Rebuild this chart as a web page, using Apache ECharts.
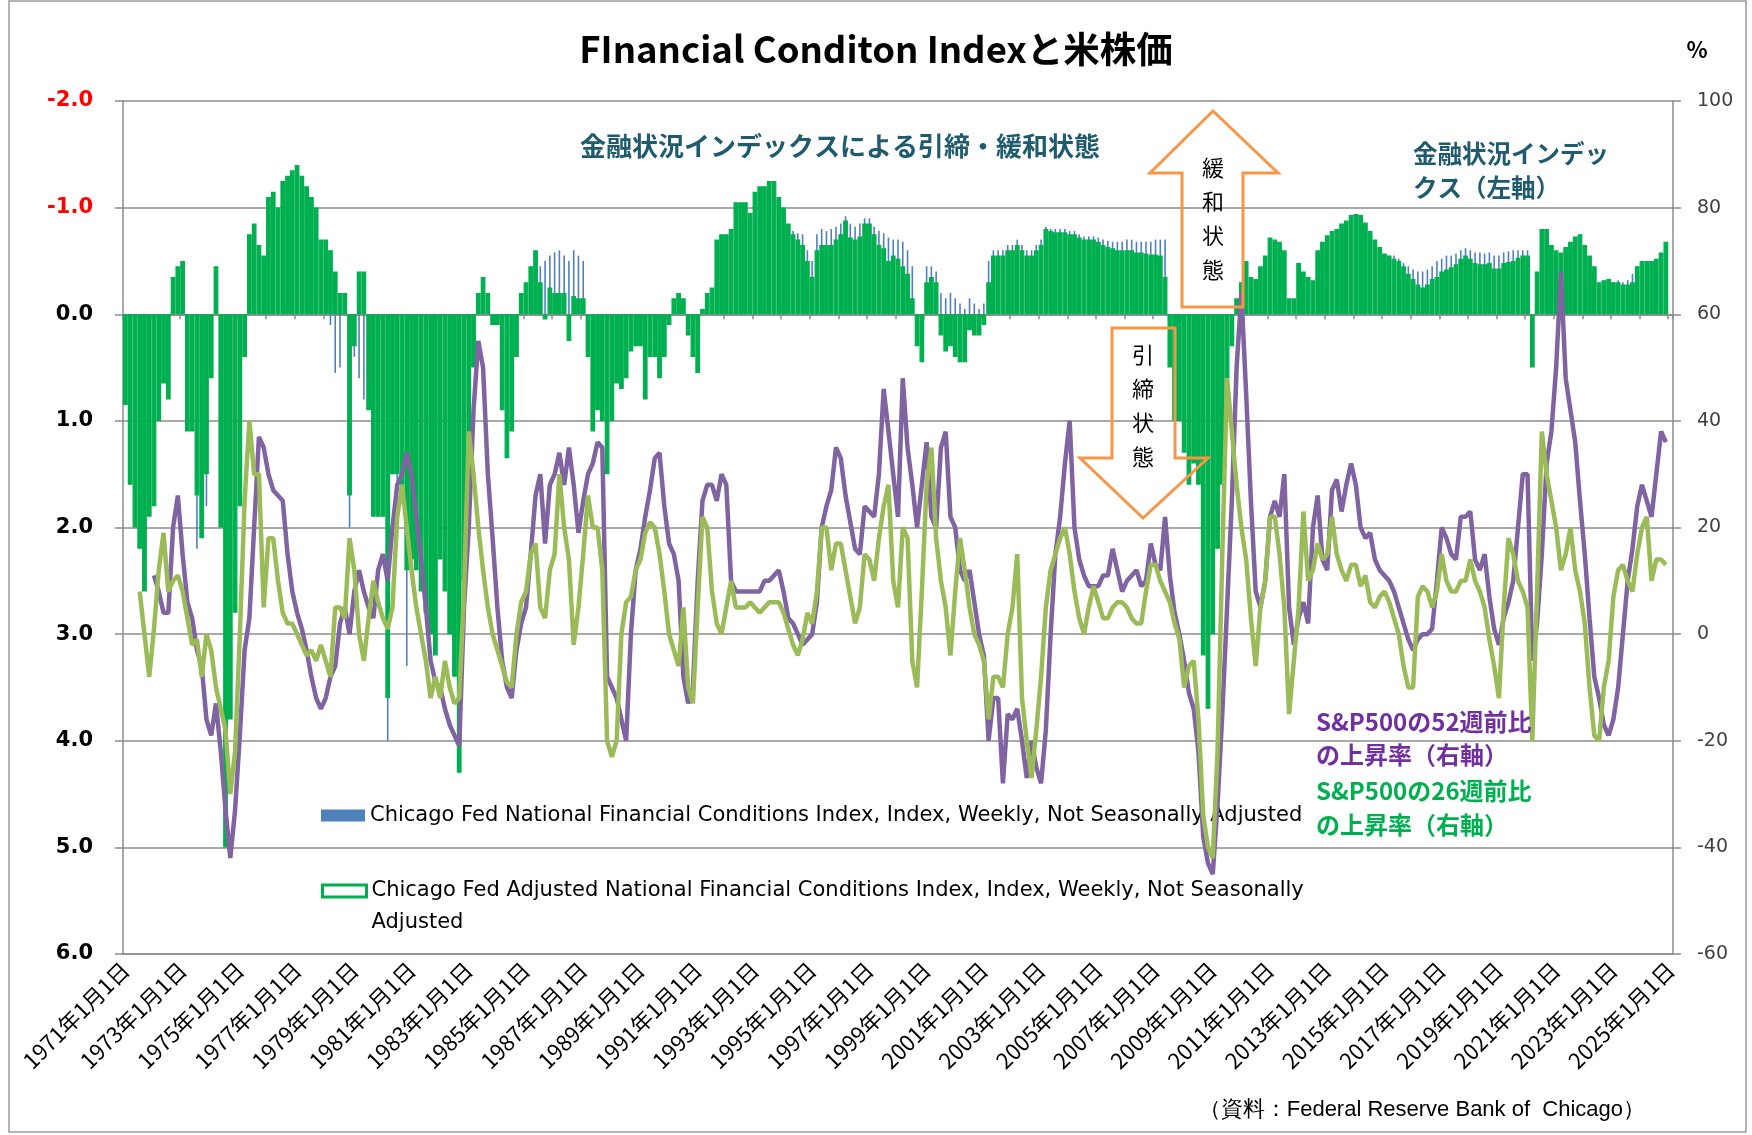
<!DOCTYPE html>
<html>
<head>
<meta charset="utf-8">
<script src="https://cdn.jsdelivr.net/npm/echarts@6/dist/echarts.min.js"></script>
<style>html,body{margin:0;padding:0;background:#fff}#c{width:1752px;height:1135px}</style>
</head>
<body>
<div id="c"></div>
<script>
// Bimonthly slots (Jan, Mar, May, Jul, Sep, Nov) from 1971 to Jan 2025
const startYear = 1971, endYear = 2025;
const months = [1, 3, 5, 7, 9, 11];

// Chicago Fed Adjusted NFCI (left axis, inverted)
const anfci = [
0.85,1.6,2.0,2.2,2.6,1.9,
1.8,1.0,0.65,0.8,-0.35,-0.45,
-0.5,1.1,1.1,1.7,2.1,1.5,
0.6,-0.45,2.0,5.0,3.8,2.8,
1.8,0.4,-0.75,-0.85,-0.65,-0.55,
-1.1,-1.15,-1.0,-1.25,-1.3,-1.35,
-1.4,-1.3,-1.2,-1.1,-1.0,-0.7,
-0.7,-0.6,-0.4,-0.2,-0.2,1.7,
0.3,-0.4,-0.4,0.9,1.9,1.9,
1.9,3.6,1.5,1.5,1.6,2.4,
2.3,2.4,2.6,2.8,3.0,3.2,
2.3,2.6,3.0,3.4,4.3,2.5,
1.2,0.5,-0.2,-0.35,-0.2,0.1,
0.1,0.9,1.35,1.1,0.4,-0.2,
-0.3,-0.45,-0.6,-0.3,0.05,-0.25,
-0.2,-0.2,-0.2,0.25,-0.17,-0.15,
-0.15,0.4,1.1,0.9,1.0,1.5,
1.0,0.65,0.7,0.6,0.35,0.3,
0.3,0.8,0.4,0.4,0.6,0.4,
0.1,-0.15,-0.2,-0.15,0.2,0.4,
0.55,-0.05,-0.2,-0.25,-0.7,-0.75,
-0.75,-0.8,-1.05,-1.05,-1.05,-0.95,
-1.15,-1.2,-1.2,-1.25,-1.25,-1.1,
-1.0,-0.85,-0.75,-0.7,-0.65,-0.5,
-0.35,-0.6,-0.65,-0.65,-0.65,-0.7,
-0.75,-0.88,-0.72,-0.7,-0.73,-0.85,
-0.85,-0.75,-0.65,-0.62,-0.5,-0.55,
-0.52,-0.45,-0.38,-0.15,0.3,0.45,
-0.3,-0.35,-0.3,0.2,0.35,0.3,
0.4,0.45,0.45,0.15,0.2,0.2,
0.1,-0.3,-0.55,-0.55,-0.55,-0.6,
-0.6,-0.65,-0.6,-0.55,-0.55,-0.6,
-0.65,-0.8,-0.78,-0.77,-0.77,-0.77,
-0.75,-0.75,-0.72,-0.7,-0.7,-0.7,
-0.68,-0.65,-0.63,-0.62,-0.6,-0.6,
-0.6,-0.6,-0.58,-0.58,-0.57,-0.56,
-0.56,-0.55,-0.35,0.5,1.0,1.0,
1.3,1.6,1.4,1.6,3.2,3.7,
3.0,2.2,1.6,0.6,0.3,-0.15,
-0.3,-0.5,-0.35,-0.33,-0.45,-0.55,
-0.72,-0.7,-0.68,-0.6,-0.15,-0.15,
-0.48,-0.4,-0.35,-0.32,-0.6,-0.68,
-0.74,-0.78,-0.8,-0.85,-0.88,-0.93,
-0.94,-0.93,-0.86,-0.78,-0.7,-0.63,
-0.57,-0.55,-0.52,-0.5,-0.45,-0.38,
-0.33,-0.28,-0.25,-0.28,-0.33,-0.35,
-0.4,-0.42,-0.44,-0.47,-0.52,-0.55,
-0.52,-0.48,-0.47,-0.47,-0.48,-0.43,
-0.43,-0.48,-0.49,-0.5,-0.53,-0.55,
-0.55,0.5,-0.4,-0.8,-0.8,-0.65,
-0.6,-0.58,-0.63,-0.68,-0.73,-0.75,
-0.65,-0.55,-0.45,-0.3,-0.32,-0.33,
-0.3,-0.3,-0.28,-0.28,-0.3,-0.45,
-0.5,-0.5,-0.5,-0.52,-0.58,-0.68,
null
];

// Chicago Fed NFCI (left axis, inverted)
const nfci = [
0.75,1.4,1.8,2.0,2.3,1.7,
1.5,0.9,0.55,0.7,-0.3,-0.35,
-0.4,1.0,1.0,2.2,1.9,1.8,
0.5,-0.3,1.8,4.6,3.5,2.4,
1.5,0.3,-0.6,-0.7,-0.55,-0.45,
-0.95,-1.0,-0.9,-1.1,-1.15,-1.2,
-1.25,-1.15,-1.05,-0.95,-0.85,-0.5,
-0.4,0.1,0.55,0.5,-0.1,2.0,
0.4,0.6,0.8,0.8,1.7,1.8,
1.8,4.0,1.4,1.8,1.7,3.3,
2.2,2.3,2.5,2.7,2.9,3.0,
2.2,2.5,2.9,3.3,4.0,2.3,
1.1,0.45,-0.15,-0.3,-0.15,0.1,
0.1,0.85,1.3,1.0,0.35,-0.15,
-0.25,-0.4,-0.55,-0.45,-0.5,-0.55,
-0.58,-0.6,-0.55,-0.5,-0.6,-0.55,
-0.5,0.3,0.9,0.8,0.9,1.4,
0.9,0.55,0.6,0.5,0.3,0.25,
0.25,0.7,0.35,0.35,0.5,0.35,
0.05,-0.1,-0.15,-0.1,0.15,0.35,
0.5,-0.05,-0.15,-0.2,-0.6,-0.65,
-0.7,-0.75,-0.95,-0.95,-0.95,-0.9,
-1.05,-1.1,-1.1,-1.15,-1.15,-1.0,
-0.95,-0.8,-0.78,-0.76,-0.75,-0.6,
-0.5,-0.75,-0.8,-0.78,-0.8,-0.82,
-0.85,-0.92,-0.85,-0.82,-0.85,-0.9,
-0.9,-0.82,-0.78,-0.76,-0.72,-0.7,
-0.7,-0.68,-0.6,-0.45,0.2,0.3,
-0.45,-0.45,-0.4,-0.2,-0.15,-0.2,
-0.15,-0.1,-0.05,-0.15,-0.1,-0.05,
-0.1,-0.5,-0.6,-0.6,-0.6,-0.65,
-0.65,-0.7,-0.65,-0.6,-0.6,-0.65,
-0.7,-0.82,-0.8,-0.8,-0.8,-0.8,
-0.78,-0.78,-0.75,-0.73,-0.73,-0.73,
-0.72,-0.7,-0.69,-0.68,-0.68,-0.68,
-0.7,-0.7,-0.68,-0.68,-0.68,-0.68,
-0.7,-0.7,-0.7,0.4,0.9,0.9,
1.2,1.5,1.3,1.5,3.0,3.4,
2.8,2.0,1.4,0.5,0.2,-0.1,
-0.25,-0.45,-0.3,-0.3,-0.4,-0.5,
-0.65,-0.65,-0.62,-0.55,-0.1,-0.1,
-0.45,-0.38,-0.33,-0.3,-0.55,-0.62,
-0.7,-0.74,-0.76,-0.8,-0.83,-0.88,
-0.9,-0.88,-0.82,-0.74,-0.66,-0.6,
-0.55,-0.55,-0.55,-0.52,-0.48,-0.45,
-0.42,-0.4,-0.4,-0.42,-0.45,-0.5,
-0.52,-0.55,-0.55,-0.57,-0.6,-0.62,
-0.6,-0.58,-0.58,-0.57,-0.58,-0.55,
-0.55,-0.58,-0.59,-0.6,-0.6,-0.6,
-0.6,0.45,-0.35,-0.75,-0.78,-0.62,
-0.58,-0.56,-0.6,-0.65,-0.7,-0.72,
-0.62,-0.52,-0.42,-0.28,-0.3,-0.31,
-0.3,-0.32,-0.3,-0.32,-0.38,-0.45,
-0.5,-0.5,-0.5,-0.52,-0.56,-0.65,
null
];

// S&P500 52-week change, % (right axis)
const sp52 = [
null,null,null,null,null,null,
11,8,4,4,20,26,
15,6,3,-3,-6,-16,
-19,-13,-22,-33,-42,-33,
-19,-3,3,20,37,35,
30,27,26,25,15,8,
4,1,-3,-8,-12,-14,
-12,-8,-6,2,5,0,
8,12,8,5,3,12,
15,10,20,28,30,34,
30,22,14,5,-5,-9,
-10,-14,-17,-19,-21,5,
20,42,55,50,30,18,
5,-5,-10,-12,-3,2,
5,15,26,30,17,28,
30,34,28,35,28,19,
25,30,32,36,35,-8,
-10,-12,-16,-20,0,12,
16,22,27,33,34,24,
17,15,10,-8,-13,-10,
10,25,28,28,25,30,
28,10,8,8,8,8,
8,8,10,10,11,12,
8,3,2,0,-2,-1,
0,6,20,24,27,35,
33,26,21,16,15,24,
23,22,30,46,38,30,
22,48,35,28,20,28,
36,22,20,35,38,22,
20,12,10,12,6,0,
-4,-20,-12,-12,-28,-15,
-16,-14,-20,-27,-20,-25,
-28,-18,0,15,22,32,
40,20,14,11,9,9,
9,11,11,16,12,8,
10,11,12,9,10,17,
13,12,22,11,4,0,
-5,-11,-14,-22,-38,-43,
-45,-32,-15,5,25,50,
64,45,25,8,5,10,
22,25,22,30,5,-2,
3,6,2,20,26,14,
12,27,29,23,28,32,
28,20,18,19,14,12,
11,10,8,5,2,-1,
-3,-1,0,0,1,10,
20,18,15,14,22,22,
23,14,12,15,7,1,
-2,3,6,10,20,30,
30,-5,2,15,32,38,
50,68,48,42,36,25,
15,3,-8,-12,-17,-19,
-16,-10,0,10,16,24,
28,25,22,30,38,36,
null
];

// S&P500 26-week change, % (right axis)
const sp26 = [
null,null,null,8,0,-8,
1,12,19,8,10,11,
8,3,-2,-1,-8,0,
-3,-10,-14,-18,-30,-22,
0,25,40,30,30,5,
18,18,10,4,2,2,
0,-2,-4,-3,-5,-2,
-5,-8,5,5,3,18,
12,0,-5,3,10,6,
3,1,5,22,28,20,
12,5,0,-5,-12,-8,
-12,-5,-10,-13,-12,8,
38,30,20,12,5,0,
-3,-6,-9,-10,0,6,
8,15,17,5,3,12,
15,30,20,14,-2,5,
15,26,20,20,12,-20,
-23,-20,0,6,7,12,
14,19,21,20,15,8,
0,-3,-6,5,-10,-13,
5,22,20,8,2,0,
5,10,5,5,5,6,
5,4,5,6,6,6,
4,1,-2,-4,-1,4,
2,8,20,20,12,17,
17,12,7,2,5,15,
14,10,18,24,28,10,
5,20,18,-5,-10,8,
28,35,18,10,5,-4,
8,18,12,5,0,-2,
-5,-16,-8,-8,-10,0,
5,15,-12,-20,-27,-18,
-8,5,12,15,18,20,
15,8,3,0,5,9,
6,3,3,5,6,6,
5,3,2,2,8,13,
13,10,8,6,2,-1,
-10,-6,-5,-16,-34,-40,
-42,-22,15,48,38,28,
20,14,3,-6,5,10,
22,22,15,5,-15,-5,
5,23,10,12,17,14,
15,22,15,12,10,13,
13,9,11,6,5,7,
8,6,3,0,-6,-10,
-10,7,9,8,5,8,
15,10,8,8,10,10,
14,10,8,5,-1,-6,
-12,5,18,15,10,8,
5,-20,8,38,30,25,
20,12,15,20,12,8,
2,-10,-19,-20,-10,-5,
7,12,13,10,8,15,
20,22,10,14,14,13,
null
];

const leftTicks = [-2, -1, 0, 1, 2, 3, 4, 5, 6];
const rightTicks = [-60, -40, -20, 0, 20, 40, 60, 80, 100];

const categories = [];
for (let y = startYear; y <= endYear; y++) {
  for (const m of months) {
    if (y === endYear && m > 1) break;
    categories.push(y + '年' + m + '月1日');
  }
}

const NAME_NFCI = 'Chicago Fed National Financial Conditions Index, Index, Weekly, Not Seasonally Adjusted';
const NAME_ANFCI = 'Chicago Fed Adjusted National Financial Conditions Index, Index, Weekly, Not Seasonally Adjusted';
const JP = '"Noto Sans CJK JP", "Noto Sans", sans-serif';
const VD = '"DejaVu Sans", Verdana, sans-serif';
const GRID = '#8c8c8c';

const chart = echarts.init(document.getElementById('c'), null, {renderer: 'canvas'});
chart.setOption({
  backgroundColor: '#ffffff',
  animation: false,
  title: {
    text: 'FInancial Conditon Indexと米株価',
    left: 'center', top: 26,
    textStyle: {fontFamily: JP, fontSize: 36.5, fontWeight: 'bold', color: '#000'}
  },
  grid: {left: 123, top: 101, width: 1550, height: 853, containLabel: false},
  legend: [
    {
      data: [{name: NAME_NFCI, icon: 'rect'}],
      left: 316, top: 800, itemWidth: 44, itemHeight: 12, selectedMode: false,
      textStyle: {fontFamily: VD, fontSize: 21, color: '#000'}
    },
    {
      data: [{name: NAME_ANFCI, icon: 'rect', itemStyle: {color: '#ffffff', borderColor: '#00B050', borderWidth: 3}}],
      left: 316, top: 838, itemWidth: 44, itemHeight: 12, selectedMode: false,
      formatter: n => '\n' + n.replace(/ Adjusted$/, '\nAdjusted'),
      textStyle: {fontFamily: VD, fontSize: 21, color: '#000', lineHeight: 32}
    }
  ],
  xAxis: [
    {
      type: 'category', data: categories, position: 'bottom', boundaryGap: true,
      axisLine: {onZero: false, lineStyle: {color: GRID, width: 1.5}},
      axisTick: {show: false},
      axisLabel: {
        interval: i => i % 12 === 0, rotate: 45, margin: 12,
        fontFamily: JP, fontSize: 22, color: '#000'
      },
      splitLine: {show: false}
    },
    {
      type: 'category', data: categories, position: 'bottom', boundaryGap: true,
      axisLine: {onZero: true, onZeroAxisIndex: 0, lineStyle: {color: GRID, width: 1.5}},
      axisTick: {show: true, interval: 5, length: 5, lineStyle: {color: GRID, width: 1.5}},
      axisLabel: {show: false},
      splitLine: {show: false}
    }
  ],
  yAxis: [
    {
      type: 'value', min: leftTicks[0], max: leftTicks[leftTicks.length - 1], interval: 1,
      inverse: true, position: 'left',
      axisLine: {show: true, lineStyle: {color: GRID, width: 1.5}},
      axisTick: {show: true, length: 8, lineStyle: {color: GRID, width: 1.5}},
      axisLabel: {
        margin: 30, fontFamily: VD, fontSize: 21, fontWeight: 'bold',
        formatter: v => v.toFixed(1),
        color: v => (v < 0 ? '#ff0000' : '#000')
      },
      splitLine: {show: true, lineStyle: {color: GRID, width: 1.5}}
    },
    {
      type: 'value', min: rightTicks[0], max: rightTicks[rightTicks.length - 1], interval: 20,
      position: 'right',
      axisLine: {show: true, lineStyle: {color: GRID, width: 1.5}},
      axisTick: {show: true, length: 8, lineStyle: {color: GRID, width: 1.5}},
      axisLabel: {margin: 24, fontFamily: VD, fontSize: 19, color: '#404040'},
      splitLine: {show: false}
    }
  ],
  series: [
    {
      name: NAME_NFCI, type: 'bar', xAxisIndex: 1, yAxisIndex: 0,
      data: nfci, barWidth: 1.6, itemStyle: {color: '#4F81BD'}, z: 2
    },
    {
      name: NAME_ANFCI, type: 'bar', xAxisIndex: 0, yAxisIndex: 0,
      data: anfci, barWidth: '100%', barCategoryGap: '0%',
      itemStyle: {color: '#00B050', borderColor: '#00B050', borderWidth: 1.2}, z: 3
    },
    {
      name: 'S&P500の52週前比の上昇率（右軸）', type: 'line', xAxisIndex: 0, yAxisIndex: 1,
      data: sp52, showSymbol: false, symbol: 'none', connectNulls: false,
      lineStyle: {color: '#8064A2', width: 4.5}, z: 4
    },
    {
      name: 'S&P500の26週前比の上昇率（右軸）', type: 'line', xAxisIndex: 0, yAxisIndex: 1,
      data: sp26, showSymbol: false, symbol: 'none', connectNulls: false,
      lineStyle: {color: '#9BBB59', width: 4.5}, z: 5
    }
  ],
  graphic: [
    {type: 'rect', shape: {x: 9, y: 1, width: 1737, height: 1131}, style: {fill: 'none', stroke: '#9a9a9a', lineWidth: 1.5}, z: 0, silent: true},
    {type: 'text', x: 1697, y: 50, z: 10, style: {text: '%', fontFamily: JP, fontSize: 22, fontWeight: 'bold', fill: '#000', align: 'center', verticalAlign: 'middle'}},
    {type: 'text', x: 580, y: 146, z: 10, style: {text: '金融状況インデックスによる引締・緩和状態', fontFamily: JP, fontSize: 26, fontWeight: 'bold', fill: '#1f5b6e', align: 'left', verticalAlign: 'middle'}},
    {type: 'text', x: 1413, y: 171, z: 10, style: {text: '金融状況インデッ\nクス（左軸）', fontFamily: JP, fontSize: 24.5, lineHeight: 34, fontWeight: 'bold', fill: '#1f5b6e', align: 'left', verticalAlign: 'middle'}},
    {type: 'text', x: 1316, y: 738, z: 10, style: {text: 'S&P500の52週前比\nの上昇率（右軸）', fontFamily: JP, fontSize: 24, lineHeight: 33, fontWeight: 'bold', fill: '#7030A0', align: 'left', verticalAlign: 'middle'}},
    {type: 'text', x: 1316, y: 808, z: 10, style: {text: 'S&P500の26週前比\nの上昇率（右軸）', fontFamily: JP, fontSize: 24, lineHeight: 34, fontWeight: 'bold', fill: '#00B050', align: 'left', verticalAlign: 'middle'}},
    {type: 'polygon', z: 10, shape: {points: [[1213, 111], [1278, 173], [1243, 173], [1243, 307], [1182, 307], [1182, 173], [1150, 173]]}, style: {fill: 'none', stroke: '#F79646', lineWidth: 3}},
    {type: 'text', x: 1213, y: 219, z: 11, style: {text: '緩\n和\n状\n態', fontFamily: JP, fontSize: 22, lineHeight: 34, fill: '#000', align: 'center', verticalAlign: 'middle'}},
    {type: 'polygon', z: 10, shape: {points: [[1112, 328], [1175, 328], [1175, 458], [1208, 458], [1143, 518], [1080, 458], [1112, 458]]}, style: {fill: 'none', stroke: '#F79646', lineWidth: 3}},
    {type: 'text', x: 1143, y: 406, z: 11, style: {text: '引\n締\n状\n態', fontFamily: JP, fontSize: 22, lineHeight: 34, fill: '#000', align: 'center', verticalAlign: 'middle'}},
    {type: 'text', x: 1645, y: 1110, z: 10, style: {text: '（資料：Federal Reserve Bank of  Chicago）', fontFamily: '"Liberation Sans", Arial, sans-serif', fontSize: 22, fill: '#000', align: 'right', verticalAlign: 'middle'}}
  ]
});
</script>
</body>
</html>
